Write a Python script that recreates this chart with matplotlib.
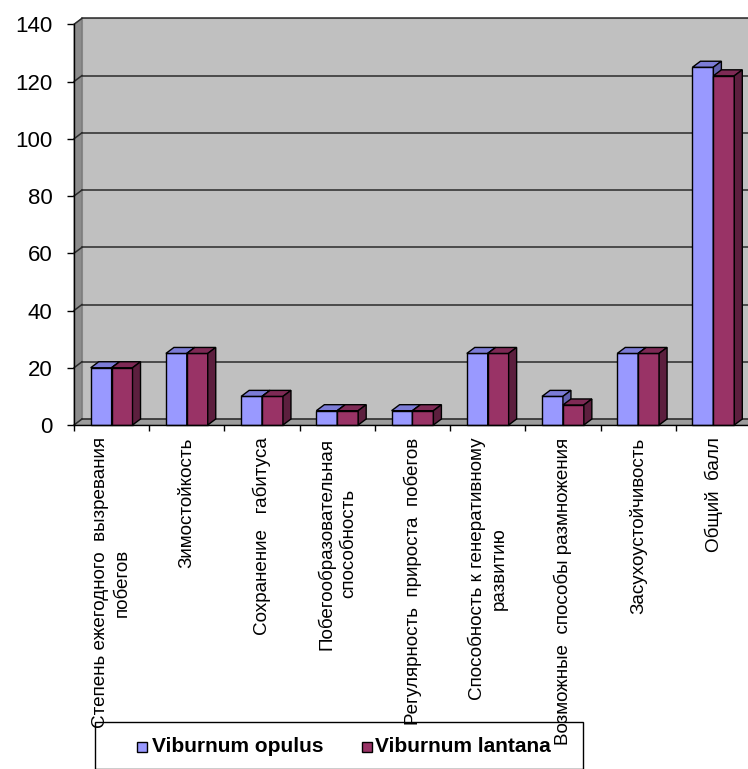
import matplotlib
matplotlib.use("Agg")
import matplotlib.pyplot as plt
from matplotlib.patches import Polygon, Rectangle

plt.rcParams['font.family'] = ['Liberation Sans', 'DejaVu Sans']

categories = [
    "Степень ежегодного  вызревания\nпобегов",
    "Зимостойкость",
    "Сохранение   габитуса",
    "Побегообразовательная\nспособность",
    "Регулярность  прироста  побегов",
    "Способность к генеративному\nразвитию",
    "Возможные  способы размножения",
    "Засухоустойчивость",
    "Общий  балл",
]
series_names = ["Viburnum opulus", "Viburnum lantana"]
opulus = [20, 25, 10, 5, 5, 25, 10, 25, 125]
lantana = [20, 25, 10, 5, 5, 25, 7, 25, 122]
yticks = [0, 20, 40, 60, 80, 100, 120, 140]

front_colors = ["#9999FF", "#993366"]
top_colors = ["#7C7CD6", "#7E2A55"]
side_colors = ["#6262B0", "#5C1F3E"]

W, H = 748, 769
fig = plt.figure(figsize=(W / 100, H / 100), dpi=100)

# axes in pixel geometry
x0_px, x1_px = 74, 751
y0_px, y1_px = 425, 24.3
ax = fig.add_axes([x0_px / W, (H - y0_px) / H, (x1_px - x0_px) / W, (y0_px - y1_px) / H])
n = len(categories)
ax.set_xlim(0, n)
ax.set_ylim(0, 140)
ax.patch.set_visible(False)

# 3D depth offsets in data units
px_per_cat = (x1_px - x0_px) / n
px_per_val = (y0_px - y1_px) / 140
dx = 8 / px_per_cat
dy = 6 / px_per_val

ymax = 140
# back wall
ax.add_patch(Polygon([(dx, dy), (n + dx, dy), (n + dx, ymax + dy), (dx, ymax + dy)],
                     closed=True, facecolor="#C0C0C0", edgecolor="#9A9A9A", lw=0.8,
                     zorder=1, clip_on=False))
# side wall
ax.add_patch(Polygon([(0, 0), (dx, dy), (dx, ymax + dy), (0, ymax)], closed=True,
                     facecolor="#8C8C8C", edgecolor="#6E6E6E", lw=0.6, zorder=1, clip_on=False))
# floor
ax.add_patch(Polygon([(0, 0), (n, 0), (n + dx, dy), (dx, dy)], closed=True,
                     facecolor="#9C9C9C", edgecolor="#7A7A7A", lw=0.6, zorder=1, clip_on=False))
# gridlines
for v in yticks:
    ax.plot([dx, n + dx], [v + dy, v + dy], color="#2A2A2A", lw=1.1, zorder=2, clip_on=False)
    ax.plot([0, dx], [v, v + dy], color="#2A2A2A", lw=1.1, zorder=2, clip_on=False)

bar_w = 0.278
start = 0.222
z = 3
for i in range(n):
    for s, vals in enumerate([opulus, lantana]):
        h = vals[i]
        xa = i + start + s * bar_w
        xb = xa + bar_w
        ax.add_patch(Polygon([(xa, 0), (xb, 0), (xb, h), (xa, h)], closed=True,
                             facecolor=front_colors[s], edgecolor="black", lw=1.0,
                             zorder=z, clip_on=False, joinstyle="miter"))
        ax.add_patch(Polygon([(xa, h), (xb, h), (xb + dx, h + dy), (xa + dx, h + dy)], closed=True,
                             facecolor=top_colors[s], edgecolor="black", lw=1.0,
                             zorder=z, clip_on=False, joinstyle="miter"))
        ax.add_patch(Polygon([(xb, 0), (xb + dx, dy), (xb + dx, h + dy), (xb, h)], closed=True,
                             facecolor=side_colors[s], edgecolor="black", lw=1.0,
                             zorder=z, clip_on=False, joinstyle="miter"))
        z += 1

for sp in ["top", "right"]:
    ax.spines[sp].set_visible(False)
for sp in ["left", "bottom"]:
    ax.spines[sp].set_color("black")
    ax.spines[sp].set_linewidth(1.0)
    ax.spines[sp].set_zorder(100)

ax.set_yticks(yticks)
ax.set_yticklabels([str(v) for v in yticks], fontsize=16)
ax.tick_params(axis="y", length=5, width=1.0, pad=10.5, direction="out")

ax.set_xticks(range(n + 1), minor=True)
ax.tick_params(axis="x", which="minor", length=4, width=1.0, direction="out")
ax.set_xticks([i + 0.5 for i in range(n)])
ax.set_xticklabels(categories, rotation=90, fontsize=13.6, ha="center", va="top",
                   multialignment="center", linespacing=1.35)
ax.tick_params(axis="x", which="major", length=0, pad=9.0)

# legend box (manual, Excel-like)
fig.patches.append(Rectangle((95 / W, 0), (583 - 95) / W, (H - 722) / H,
                             transform=fig.transFigure, fill=False, edgecolor="black",
                             lw=1.0, zorder=-1))
leg_items = [(137, 152), (362, 375)]
for (mx, tx), name, col in zip(leg_items, series_names, front_colors):
    fig.patches.append(Rectangle((mx / W, (H - 752) / H), 10 / W, 10 / H,
                                 transform=fig.transFigure, facecolor=col,
                                 edgecolor="black", lw=1.0))
    fig.text(tx / W, (H - 747) / H, name, fontsize=15, fontweight="bold",
             ha="left", va="center")

fig.savefig("out.png", dpi=100)
